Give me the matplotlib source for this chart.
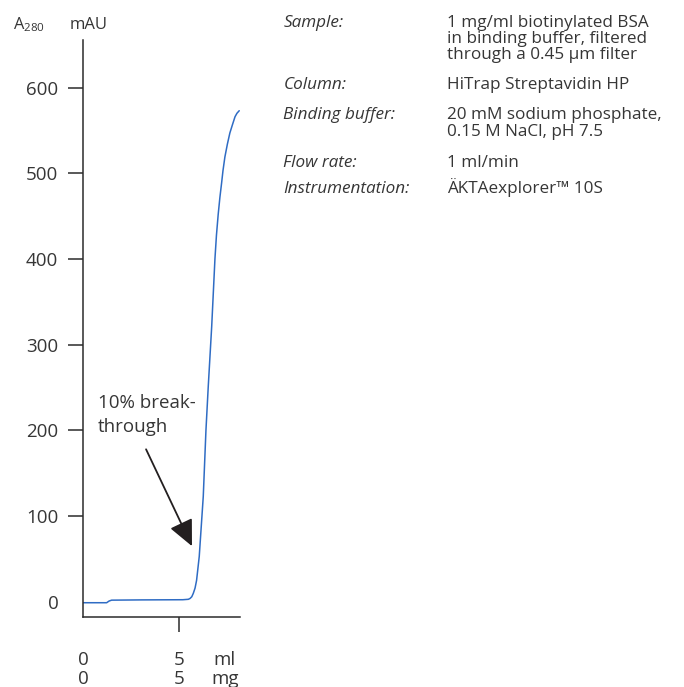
#!/usr/bin/env python3
"""Breakthrough curve of biotinylated BSA on HiTrap Streptavidin HP."""

import matplotlib

matplotlib.use("Agg")
import matplotlib.pyplot as plt

FONT = ["Open Sans", "DejaVu Sans"]
plt.rcParams["font.family"] = FONT
plt.rcParams["mathtext.fontset"] = "custom"
plt.rcParams["mathtext.rm"] = "Open Sans"
plt.rcParams["mathtext.it"] = "Open Sans:italic"

TXT = "#363636"
AX = "#2b2b2b"
BLUE = "#2f6cc4"

# curve (ml loaded, mAU)
volume_ml = [0.0, 1.22, 1.35, 1.48, 3.0, 5.2, 5.49, 5.58, 5.67, 5.75, 5.84,
             5.92, 6.06, 6.27, 6.41, 6.53, 6.71, 6.88, 6.96, 7.05, 7.14,
             7.23, 7.30, 7.40, 7.53, 7.66, 7.80, 7.93, 8.03, 8.15]
a280_mau = [-1, -1, 1, 2, 2.3, 2.5, 3, 4, 6, 10, 16, 25, 53, 123, 200, 251,
            321, 400, 428, 452, 472, 489, 503, 519, 534, 547, 557, 566, 570,
            573]

y_ticks = [0, 100, 200, 300, 400, 500, 600]
x_ticks = [0, 5, 7.4]
x_labels = ["0\n0", "5\n5", "ml\nmg"]

info_labels = ["Sample:", "Column:", "Binding buffer:", "Flow rate:",
               "Instrumentation:"]
info_values = [
    ["1 mg/ml biotinylated BSA", "in binding buffer, filtered",
     "through a 0.45 µm filter"],
    ["HiTrap Streptavidin HP"],
    ["20 mM sodium phosphate,", "0.15 M NaCl, pH 7.5"],
    ["1 ml/min"],
    ["ÄKTAexplorer™ 10S"],
]
# baselines of each line, pixels from top
info_baselines = [[26.7, 42.9, 59.3], [89.3], [119.3, 136.0], [167.3], [193.3]]

W, H = 684, 687
fig = plt.figure(figsize=(W / 100, H / 100), dpi=100)
ax = fig.add_axes([83.3 / W, (H - 617.3) / H, (240 - 83.3) / W, (617.3 - 40) / H])

ax.plot(volume_ml, a280_mau, color=BLUE, lw=1.1, solid_capstyle="round",
        solid_joinstyle="round")
ax.set_xlim(0, 8.19)
ax.set_ylim(-18, 655.5)

for s in ("top", "right"):
    ax.spines[s].set_visible(False)
for s in ("left", "bottom"):
    ax.spines[s].set_color(AX)
    ax.spines[s].set_linewidth(1.1)

ax.set_yticks(y_ticks)
ax.set_yticklabels([str(v) for v in y_ticks])
ax.tick_params(axis="y", direction="out", length=11, width=1.1, color=AX,
               pad=7, labelsize=13.5, labelcolor=TXT)
ax.yaxis.get_major_ticks()[0].tick1line.set_visible(False)

ax.set_xticks(x_ticks)
ax.set_xticklabels(x_labels, linespacing=1.1)
ax.tick_params(axis="x", direction="out", length=11, width=1.1, color=AX,
               pad=13, labelsize=13.5, labelcolor=TXT)
for i in (0, 2):
    ax.xaxis.get_major_ticks()[i].tick1line.set_visible(False)

# breakthrough annotation
ax.text(0.78, 226, "10% break-", fontsize=13.5, color=TXT, va="baseline")
ax.text(0.78, 198.5, "through", fontsize=13.5, color=TXT, va="baseline")
ax.annotate("", xy=(5.68, 65), xytext=(3.28, 178),
            arrowprops=dict(arrowstyle="-|>,head_length=1.6,head_width=0.75",
                            color="#231f20", lw=1.3, mutation_scale=10,
                            shrinkA=0, shrinkB=0))

# axis unit labels
fig.text(13 / W, 1 - 29.3 / H, "A$_{280}$", fontsize=11.8, color=TXT,
         va="baseline")
fig.text(70 / W, 1 - 29.3 / H, "mAU", fontsize=12, color=TXT, va="baseline")

# run conditions
for lab, vals, ys in zip(info_labels, info_values, info_baselines):
    fig.text(283.3 / W, 1 - ys[0] / H, lab, fontsize=12.3, color=TXT,
             style="italic", va="baseline")
    for v, y in zip(vals, ys):
        fig.text(446.7 / W, 1 - y / H, v, fontsize=12.3, color=TXT,
                 va="baseline")

fig.savefig("out.png", dpi=100)
